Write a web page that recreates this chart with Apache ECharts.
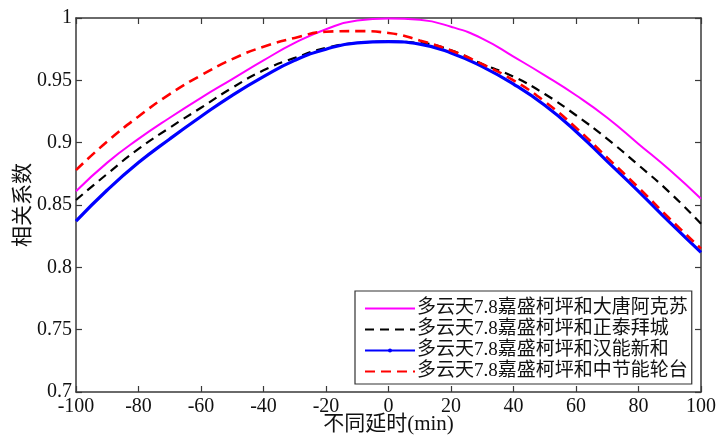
<!DOCTYPE html>
<html>
<head>
<meta charset="utf-8">
<script src="https://cdn.jsdelivr.net/npm/echarts@6/dist/echarts.min.js"></script>
<style>
html,body{margin:0;padding:0;background:#fff;}
#chart{width:717px;height:438px;}
</style>
</head>
<body>
<div id="chart"></div>
<script>
// delay in minutes
const minutes = [-100,-90,-80,-70,-60,-50,-40,-30,-20,-10,0,10,20,30,40,50,60,70,80,90,100];
// 多云天7.8嘉盛柯坪和大唐阿克苏
const akesu   = [0.861,0.884,0.903,0.920,0.936,0.951,0.966,0.980,0.991,0.998,0.9995,0.9985,0.993,0.9835,0.969,0.954,0.938,0.920,0.899,0.878,0.855];
// 多云天7.8嘉盛柯坪和正泰拜城
const baicheng= [0.854,0.875,0.895,0.912,0.928,0.944,0.958,0.968,0.976,0.980,0.981,0.980,0.974,0.963,0.953,0.939,0.922,0.903,0.882,0.860,0.835];
// 多云天7.8嘉盛柯坪和汉能新和
const xinhe   = [0.837,0.862,0.884,0.903,0.921,0.938,0.953,0.966,0.975,0.980,0.981,0.979,0.972,0.961,0.947,0.930,0.909,0.885,0.861,0.836,0.812];
// 多云天7.8嘉盛柯坪和中节能轮台
const luntai  = [0.878,0.901,0.921,0.939,0.954,0.967,0.977,0.984,0.989,0.9895,0.988,0.982,0.974,0.963,0.950,0.933,0.912,0.888,0.864,0.839,0.815];

const seriesNames = ['多云天7.8嘉盛柯坪和大唐阿克苏','多云天7.8嘉盛柯坪和正泰拜城','多云天7.8嘉盛柯坪和汉能新和','多云天7.8嘉盛柯坪和中节能轮台'];
const xTicks = {min:-100, max:100, interval:20};
const yTicks = {min:0.7, max:1, interval:0.05};

const zip = arr => minutes.map((m,i)=>[m, arr[i]]);
const serif = "'Liberation Serif','Noto Sans CJK SC'";
const axisColor = '#3a3a3a';
const noMark = {color:'rgba(0,0,0,0)', borderWidth:0};

const chart = echarts.init(document.getElementById('chart'), null, {renderer:'canvas'});
const baseX = {
  type:'value', min:xTicks.min, max:xTicks.max, interval:xTicks.interval,
  axisLine:{show:true, onZero:false, lineStyle:{color:axisColor, width:1.5}},
  axisTick:{show:true, inside:true, length:6, lineStyle:{color:axisColor, width:1.2}},
  splitLine:{show:false}
};
const baseY = {
  type:'value', min:yTicks.min, max:yTicks.max, interval:yTicks.interval,
  axisLine:{show:true, onZero:false, lineStyle:{color:axisColor, width:1.5}},
  axisTick:{show:true, inside:true, length:6, lineStyle:{color:axisColor, width:1.2}},
  splitLine:{show:false}
};
chart.setOption({
  backgroundColor:'#fff',
  animation:false,
  grid:{left:76, right:16, top:18, bottom:46, containLabel:false, outerBoundsMode:'none'},
  legend:{
    orient:'vertical', left:355, top:291,
    data:[
      {name:seriesNames[0], itemStyle:noMark},
      {name:seriesNames[1], itemStyle:noMark},
      {name:seriesNames[2]},
      {name:seriesNames[3], itemStyle:noMark}
    ],
    backgroundColor:'#fff', borderColor:'#333', borderWidth:1.2,
    padding:[7,4,2,9], itemGap:0, itemWidth:50, itemHeight:5,
    textStyle:{fontFamily:serif, fontSize:19, color:'#111', lineHeight:21, padding:[0,0,0,-3]}
  },
  xAxis:[
    Object.assign({}, baseX, {position:'bottom',
      name:'不同延时(min)', nameLocation:'middle', nameGap:22, nameMoveOverlap:false,
      nameTextStyle:{fontFamily:serif, fontSize:21, color:'#111'},
      axisLabel:{show:true, margin:5, fontFamily:serif, fontSize:20, color:'#111'}}),
    Object.assign({}, baseX, {position:'top', axisLabel:{show:false}})
  ],
  yAxis:[
    Object.assign({}, baseY, {position:'left',
      name:'相关系数', nameLocation:'middle', nameGap:42, nameRotate:90, nameMoveOverlap:false,
      nameTextStyle:{fontFamily:serif, fontSize:21, color:'#111'},
      axisLabel:{show:true, margin:4, fontFamily:serif, fontSize:20, color:'#111',
        formatter:v=>String(parseFloat(v.toFixed(2)))}}),
    Object.assign({}, baseY, {position:'right', axisLabel:{show:false}})
  ],
  series:[
    {name:seriesNames[0], type:'line', data:zip(akesu), smooth:true, symbol:'none',
      lineStyle:{color:'#ff00ff', width:2}, itemStyle:{color:'#ff00ff'}},
    {name:seriesNames[1], type:'line', data:zip(baicheng), smooth:true, symbol:'none',
      lineStyle:{color:'#000000', width:2.2, type:[9,6]}, itemStyle:{color:'#000000'}},
    {name:seriesNames[2], type:'line', data:zip(xinhe), smooth:true, symbol:'circle', symbolSize:4, showSymbol:false,
      lineStyle:{color:'#0000ff', width:3.2}, itemStyle:{color:'#0000ff'}},
    {name:seriesNames[3], type:'line', data:zip(luntai), smooth:true, symbol:'none',
      lineStyle:{color:'#ff0000', width:2.6, type:[10,6]}, itemStyle:{color:'#ff0000'}}
  ]
});
</script>
</body>
</html>
